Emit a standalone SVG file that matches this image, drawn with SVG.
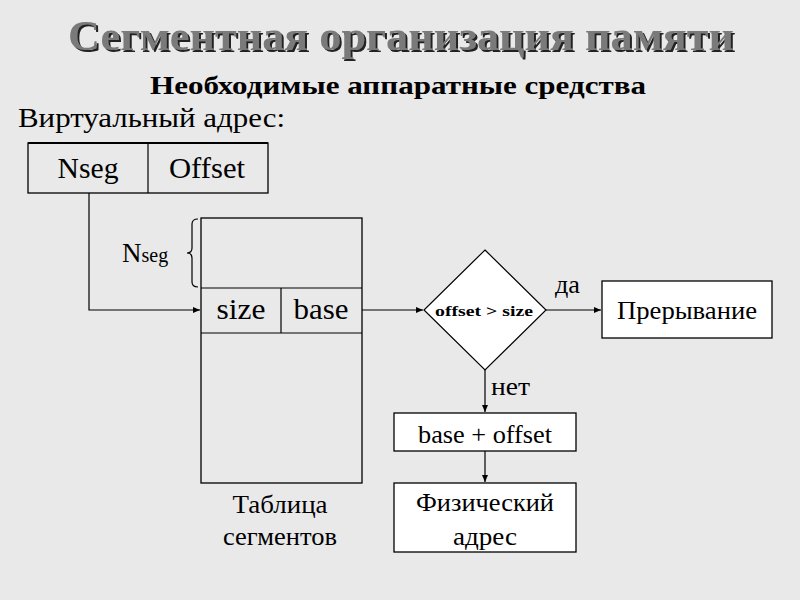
<svg xmlns="http://www.w3.org/2000/svg" width="800" height="600" viewBox="0 0 800 600">
<defs>
<marker id="arr" markerWidth="8" markerHeight="8" refX="7" refY="4" orient="auto" markerUnits="userSpaceOnUse">
<path d="M0,1 L7,4 L0,7 Z" fill="#000"/>
</marker>
<filter id="shadow" x="-5%" y="-20%" width="110%" height="150%">
<feDropShadow dx="2" dy="2" stdDeviation="0.6" flood-color="#222" flood-opacity="1"/>
</filter>
<style>
.t{font-family:"Liberation Serif","DejaVu Serif",serif;fill:#000}
.box{stroke:#000;stroke-width:1.3;fill:none}
.wbox{stroke:#000;stroke-width:1.3;fill:#fff}
.ln{stroke:#000;stroke-width:1.2;fill:none}
</style>
</defs>
<rect width="800" height="600" fill="#e9e9e9"/>
<g id="title">
<text class="t" x="401" y="50" font-size="42" font-weight="bold" text-anchor="middle" textLength="666" lengthAdjust="spacingAndGlyphs" style="fill:#7a7a7a" filter="url(#shadow)">Сегментная организация памяти</text>
</g>
<text class="t" x="398" y="94" font-size="25" font-weight="bold" text-anchor="middle" textLength="496" lengthAdjust="spacingAndGlyphs">Необходимые аппаратные средства</text>
<text class="t" x="18" y="127" font-size="27" textLength="267" lengthAdjust="spacingAndGlyphs">Виртуальный адрес:</text>
<g id="vaddr">
<rect class="box" x="28" y="143" width="240" height="50"/>
<line x1="28" y1="143" x2="268" y2="143" stroke="#000" stroke-width="2.2"/>
<line class="ln" x1="148" y1="143" x2="148" y2="193"/>
<text class="t" x="88" y="178" font-size="29" text-anchor="middle" textLength="61" lengthAdjust="spacingAndGlyphs">Nseg</text>
<text class="t" x="207" y="178" font-size="29" text-anchor="middle" textLength="76" lengthAdjust="spacingAndGlyphs">Offset</text>
</g>
<g id="table">
<rect class="box" x="201" y="218" width="161" height="265"/>
<line class="ln" x1="201" y1="288" x2="362" y2="288"/>
<line class="ln" x1="201" y1="333" x2="362" y2="333"/>
<line class="ln" x1="281" y1="288" x2="281" y2="333"/>
<text class="t" x="241" y="319" font-size="29" text-anchor="middle" textLength="49" lengthAdjust="spacingAndGlyphs">size</text>
<text class="t" x="321" y="319" font-size="29" text-anchor="middle" textLength="55" lengthAdjust="spacingAndGlyphs">base</text>
<path class="ln" d="M198,219 Q192,219 192,224 L192,248 Q192,253 187,253 Q192,253 192,258 L192,282 Q192,287 198,287" stroke-width="1"/>
<text class="t" x="122" y="262" font-size="27">N<tspan font-size="20">seg</tspan></text>
<text class="t" x="280" y="513" font-size="26" text-anchor="middle" textLength="95" lengthAdjust="spacingAndGlyphs">Таблица</text>
<text class="t" x="280" y="545" font-size="26" text-anchor="middle" textLength="114" lengthAdjust="spacingAndGlyphs">сегментов</text>
</g>
<g id="decision">
<polygon points="485,250 546,310 485,370 424,310" fill="#fff" stroke="#000" stroke-width="1.2"/>
<text class="t" x="484" y="316" font-size="15" font-weight="bold" text-anchor="middle" textLength="98" lengthAdjust="spacingAndGlyphs">offset &gt; size</text>
</g>
<g id="interrupt">
<rect class="wbox" x="602" y="281" width="170" height="57"/>
<text class="t" x="687" y="319" font-size="26" text-anchor="middle" textLength="140" lengthAdjust="spacingAndGlyphs">Прерывание</text>
</g>
<g id="sum">
<rect class="wbox" x="394" y="413" width="182" height="38"/>
<text class="t" x="485" y="443" font-size="26" text-anchor="middle" textLength="134" lengthAdjust="spacingAndGlyphs">base + offset</text>
</g>
<g id="phys">
<rect class="wbox" x="394" y="483" width="182" height="69"/>
<text class="t" x="485" y="511" font-size="26" text-anchor="middle" textLength="138" lengthAdjust="spacingAndGlyphs">Физический</text>
<text class="t" x="485" y="545" font-size="26" text-anchor="middle" textLength="64" lengthAdjust="spacingAndGlyphs">адрес</text>
</g>
<g id="connectors">
<polyline class="ln" points="89,193 89,310 200,310" marker-end="url(#arr)"/>
<line class="ln" x1="362" y1="310" x2="423" y2="310" marker-end="url(#arr)"/>
<line class="ln" x1="546" y1="310" x2="601" y2="310" marker-end="url(#arr)"/>
<line class="ln" x1="485" y1="370" x2="485" y2="412" marker-end="url(#arr)"/>
<line class="ln" x1="485" y1="451" x2="485" y2="482" marker-end="url(#arr)"/>
<text class="t" x="555" y="293" font-size="26" textLength="25" lengthAdjust="spacingAndGlyphs">да</text>
<text class="t" x="491" y="395" font-size="26" textLength="39" lengthAdjust="spacingAndGlyphs">нет</text>
</g>
</svg>
